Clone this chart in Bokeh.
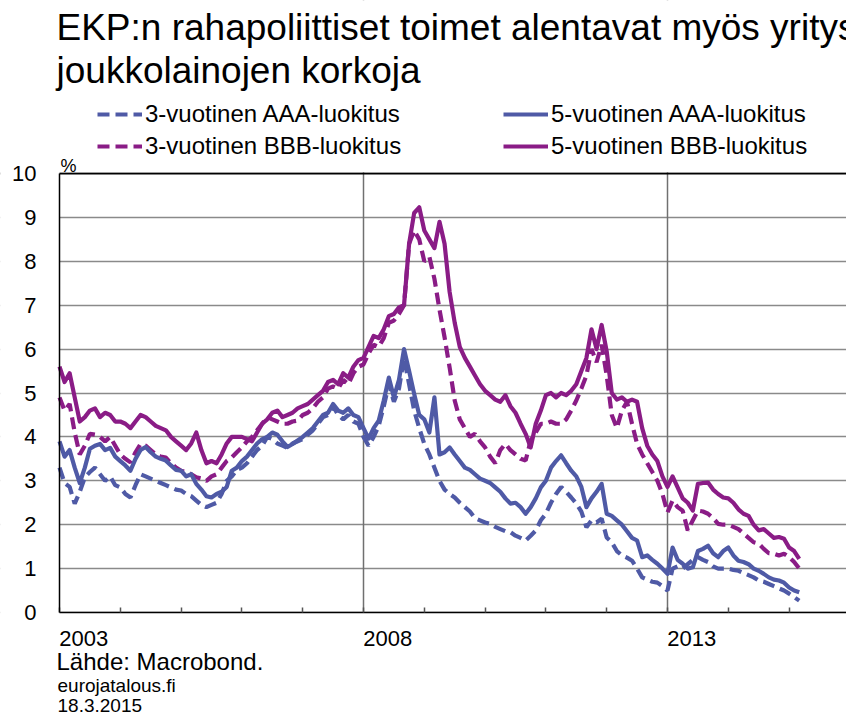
from bokeh.plotting import figure
from bokeh.models import (Range1d, FixedTicker, LinearAxis, Legend, LegendItem,
                          Label, PrintfTickFormatter, Grid, BoxAnnotation)
from bokeh.embed import file_html
from bokeh.resources import INLINE

# ---------------- data (monthly, Jan 2003 .. Mar 2015), percent ----------------
start_year = 2003
aaa3 = [
    3.3, 2.95, 2.86, 2.48, 2.75, 3.08, 3.2, 3.3, 3.15, 3.0, 3.1, 2.9,        # 2003
    2.85, 2.7, 2.62, 2.9, 3.15, 3.1, 3.05, 3.0, 2.95, 2.9, 2.85, 2.8,       # 2004
    2.78, 2.7, 2.65, 2.55, 2.45, 2.4, 2.45, 2.5, 2.7, 3.0, 3.1, 3.25,       # 2005
    3.3, 3.4, 3.55, 3.7, 3.8, 4.0, 3.95, 3.85, 3.8, 3.75, 3.85, 3.9,        # 2006
    3.95, 4.05, 4.15, 4.3, 4.45, 4.5, 4.7, 4.5, 4.4, 4.5, 4.35, 4.3,        # 2007
    4.0, 3.8, 4.0, 4.25, 4.7, 5.2, 4.8, 5.1, 5.8, 5.2, 4.6, 4.2,            # 2008
    3.84, 3.6, 3.3, 3.0, 2.8, 2.7, 2.62, 2.5, 2.4, 2.3, 2.15, 2.1,          # 2009
    2.05, 2.02, 1.95, 1.9, 1.85, 1.83, 1.75, 1.7, 1.64, 1.75, 1.87, 2.1,    # 2010
    2.25, 2.5, 2.7, 2.86, 2.75, 2.62, 2.48, 2.3, 1.94, 2.1, 2.05, 2.14,     # 2011
    1.71, 1.6, 1.4, 1.3, 1.25, 1.18, 1.0, 0.8, 0.75, 0.7, 0.68, 0.6,        # 2012
    0.5, 1.0, 1.05, 1.0, 1.1, 1.2, 1.26, 1.2, 1.15, 1.05, 1.0, 1.0,         # 2013
    1.0, 0.97, 0.95, 0.9, 0.85, 0.8, 0.73, 0.7, 0.65, 0.6, 0.55, 0.5,       # 2014
    0.43, 0.35, 0.27,                                                       # 2015
]
aaa5 = [
    3.9, 3.55, 3.7, 3.3, 2.95, 3.3, 3.73, 3.8, 3.84, 3.7, 3.75, 3.55,
    3.45, 3.35, 3.23, 3.5, 3.7, 3.77, 3.65, 3.55, 3.5, 3.46, 3.35, 3.25,
    3.23, 3.1, 3.15, 2.93, 2.8, 2.65, 2.62, 2.7, 2.75, 2.86, 3.23, 3.3,
    3.45, 3.55, 3.7, 3.85, 3.95, 4.0, 4.1, 4.05, 3.9, 3.77, 3.84, 3.92,
    4.0, 4.1, 4.2, 4.35, 4.5, 4.55, 4.75, 4.6, 4.55, 4.65, 4.5, 4.45,
    4.2, 3.96, 4.2, 4.37, 4.83, 5.35, 4.9, 5.3, 6.0, 5.5, 4.98, 4.5,
    4.4, 4.1, 4.9, 3.6, 3.65, 3.76, 3.6, 3.45, 3.3, 3.25, 3.15, 3.05,
    3.0, 2.95, 2.85, 2.75, 2.6, 2.48, 2.5, 2.4, 2.25, 2.4, 2.6, 2.85,
    3.0, 3.3, 3.45, 3.58, 3.4, 3.23, 3.1, 2.86, 2.4, 2.6, 2.75, 2.93,
    2.25, 2.2, 2.1, 2.0, 1.85, 1.7, 1.64, 1.26, 1.3, 1.2, 1.11, 1.0,
    0.88, 1.48, 1.2, 1.11, 1.0, 1.03, 1.4, 1.45, 1.52, 1.35, 1.26, 1.4,
    1.48, 1.3, 1.18, 1.15, 1.1, 1.0, 0.95, 0.88, 0.8, 0.75, 0.73, 0.68,
    0.57, 0.5, 0.46,
]
bbb3 = [
    4.9, 4.6, 4.75, 4.1, 3.6, 3.8, 4.07, 4.05, 4.0, 3.9, 4.0, 3.8,
    3.6, 3.5, 3.42, 3.65, 3.84, 3.8, 3.7, 3.6, 3.55, 3.53, 3.4, 3.3,
    3.23, 3.2, 3.15, 3.08, 3.05, 3.0, 3.1, 3.15, 3.3, 3.45, 3.53, 3.65,
    3.76, 3.9, 4.0, 4.15, 4.3, 4.45, 4.4, 4.35, 4.3, 4.3, 4.35, 4.37,
    4.5, 4.55, 4.65, 4.8, 4.9, 5.1, 5.15, 5.1, 5.3, 5.2, 5.45, 5.6,
    5.65, 5.9, 6.1, 6.05, 6.25, 6.6, 6.65, 6.8, 7.0, 8.4, 8.7, 8.5,
    8.0, 8.1, 7.6, 6.9, 6.27, 5.58, 4.83, 4.4, 4.2, 4.0, 4.07, 3.9,
    3.76, 3.55, 3.4, 3.7, 3.84, 3.7, 3.6, 3.5, 3.46, 3.92, 4.1, 4.3,
    4.3, 4.35, 4.3, 4.3, 4.4, 4.6, 4.83, 5.1, 5.4, 6.0, 5.7, 6.1,
    5.4, 4.5, 4.2, 4.6, 4.8, 4.3, 3.84, 3.6, 3.4, 3.2, 3.0, 2.7,
    2.28, 2.55, 2.4, 2.32, 1.87, 2.1, 2.32, 2.3, 2.25, 2.15, 2.02, 2.0,
    2.0, 1.95, 1.9, 1.8, 1.7, 1.6, 1.57, 1.45, 1.35, 1.34, 1.3, 1.34,
    1.26, 1.15, 1.0,
]
bbb5 = [
    5.6, 5.25, 5.45, 4.9, 4.35, 4.45, 4.6, 4.65, 4.45, 4.55, 4.5, 4.35,
    4.35, 4.3, 4.2, 4.35, 4.5, 4.45, 4.35, 4.25, 4.2, 4.15, 4.0, 3.9,
    3.8, 3.7, 3.85, 4.1, 3.7, 3.4, 3.45, 3.4, 3.6, 3.85, 4.0, 4.0,
    4.0, 3.95, 3.9, 4.1, 4.3, 4.4, 4.55, 4.6, 4.45, 4.5, 4.55, 4.65,
    4.7, 4.75, 4.85, 4.95, 5.05, 5.25, 5.3, 5.2, 5.45, 5.35, 5.6, 5.75,
    5.8, 6.05, 6.3, 6.25, 6.45, 6.75, 6.8, 6.95, 7.0, 8.4, 9.1, 9.23,
    8.7, 8.5, 8.3, 8.9, 8.4, 7.3, 6.6, 6.05, 5.8, 5.6, 5.4, 5.2,
    5.05, 4.95, 4.85, 4.8, 4.95, 4.7, 4.55, 4.3, 4.07, 3.76, 4.3, 4.6,
    4.95, 5.0, 4.9, 5.0, 4.95, 5.05, 5.2, 5.5, 5.8, 6.45, 6.0, 6.55,
    5.95, 5.0, 4.85, 4.9, 4.8, 4.85, 4.8, 4.2, 3.8, 3.6, 3.45, 3.1,
    2.86, 3.1, 2.85, 2.6, 2.5, 2.32, 2.93, 2.95, 2.96, 2.8, 2.7, 2.62,
    2.6, 2.5, 2.35, 2.25, 2.2, 2.0, 1.87, 1.9, 1.8, 1.7, 1.72, 1.68,
    1.48, 1.4, 1.22,
]
series_labels = ["3-vuotinen AAA-luokitus", "5-vuotinen AAA-luokitus",
                 "3-vuotinen BBB-luokitus", "5-vuotinen BBB-luokitus"]
y_ticks = list(range(0, 11))
tick_years = list(range(2003, 2016))
label_years = [2003, 2008, 2013]
grid_years = [2008, 2013]

title_lines = ["EKP:n rahapoliittiset toimet alentavat myös yritysten",
               "joukkolainojen korkoja"]
unit_text = "%"
source_text = "Lähde: Macrobond."
site_text = "eurojatalous.fi"
date_text = "18.3.2015"

# ---------------- geometry (pixels of the 846x724 page) ----------------
W, H = 846, 724
AX_X, AX_Y0, AX_Y10 = 59, 612, 173          # plot area: left edge, y of 0 and of 10
PX_YEAR = 60.8
PX_UNIT = (AX_Y0 - AX_Y10) / 10.0
X0 = 2003.0
Y_TOP = 10


def dx(px):
    return X0 + (px - AX_X) / PX_YEAR


def dy(py):
    return (AX_Y0 - py) / PX_UNIT


BLUE = "#4f5aa6"
PURPLE = "#8a1c86"
FONT = "Liberation Sans"

# frame covers the whole page so that nothing is clipped
p = figure(width=W, height=H, output_backend="svg", toolbar_location=None,
           x_range=Range1d(dx(0), dx(W)), y_range=Range1d(dy(H), dy(0)),
           x_axis_type=None, y_axis_type=None,
           min_border=0, min_border_left=0, min_border_right=0,
           min_border_top=0, min_border_bottom=0)
p.outline_line_color = None
p.background_fill_color = "white"
p.border_fill_color = "white"

# grids
p.add_layout(Grid(dimension=1, ticker=FixedTicker(ticks=y_ticks[:-1]),
                  grid_line_color="#8a8a8a", grid_line_width=1.5))
p.add_layout(Grid(dimension=0, ticker=FixedTicker(ticks=grid_years),
                  grid_line_color="#707070", grid_line_width=1.5))
p.add_layout(Grid(dimension=1, ticker=FixedTicker(ticks=[Y_TOP]),
                  grid_line_color="black", grid_line_width=2))
# white masks outside of the plot area (hide grid extensions)
for kw in (dict(left=dx(-5), right=X0), dict(top=0), dict(bottom=dy(AX_Y10 - 1.2))):
    p.add_layout(BoxAnnotation(fill_color="white", fill_alpha=1.0, line_color=None,
                               level="underlay", **kw))

# axes
yax = LinearAxis(ticker=FixedTicker(ticks=y_ticks), fixed_location=X0, bounds=(0, Y_TOP),
                 major_tick_line_color=None, minor_tick_line_color=None,
                 major_tick_in=0, major_tick_out=0,
                 axis_line_color="black", axis_line_width=1.5,
                 major_label_standoff=23,
                 major_label_text_font_size="22px",
                 major_label_text_font=FONT,
                 major_label_text_color="black")
p.add_layout(yax, "left")

xax = LinearAxis(ticker=FixedTicker(ticks=[y + 0.4 for y in label_years],
                                    minor_ticks=tick_years),
                 formatter=PrintfTickFormatter(format="%d"),
                 fixed_location=0, bounds=(X0, dx(W)),
                 major_tick_line_color=None, major_tick_in=0, major_tick_out=0,
                 minor_tick_in=5, minor_tick_out=0,
                 minor_tick_line_color="#555555", minor_tick_line_width=1.5,
                 axis_line_color="black", axis_line_width=1.5,
                 major_label_standoff=18,
                 major_label_text_font_size="22px",
                 major_label_text_font=FONT,
                 major_label_text_color="black")
p.add_layout(xax, "below")

# lines
t = [start_year + i / 12.0 for i in range(len(bbb5))]
r_bbb5 = p.line(t, bbb5, line_color=PURPLE, line_width=4.2, line_join="round")
r_bbb3 = p.line(t, bbb3, line_color=PURPLE, line_width=4.2, line_dash="12 6")
r_aaa5 = p.line(t, aaa5, line_color=BLUE, line_width=4.2, line_join="round")
r_aaa3 = p.line(t, aaa3, line_color=BLUE, line_width=4.2, line_dash="12 6")

# legends (two columns), positioned from the bottom-left of the page
common = dict(padding=0, margin=0, spacing=4, glyph_width=45, glyph_height=28,
              label_height=28, label_standoff=3,
              label_text_font_size="24px", label_text_font=FONT,
              label_text_color="black",
              background_fill_alpha=0, border_line_color=None)
leg1 = Legend(items=[LegendItem(label=series_labels[0], renderers=[r_aaa3]),
                     LegendItem(label=series_labels[2], renderers=[r_bbb3])],
              location=(97, H - 160), **common)
leg2 = Legend(items=[LegendItem(label=series_labels[1], renderers=[r_aaa5]),
                     LegendItem(label=series_labels[3], renderers=[r_bbb5])],
              location=(503, H - 160), **common)
p.add_layout(leg1)
p.add_layout(leg2)


# texts (y given as the visual middle of the text line)
def add_text(px, py_mid, text, size):
    p.add_layout(Label(x=dx(px), y=dy(py_mid), text=text, text_font=FONT,
                       text_font_size=size, text_color="black",
                       text_baseline="middle"))


add_text(56, 27, title_lines[0], "37px")
add_text(56, 70, title_lines[1], "37px")
add_text(60, 165, unit_text, "18px")
add_text(56, 661, source_text, "24px")
add_text(57, 685, site_text, "19px")
add_text(57, 705, date_text, "19px")

open("out.html", "w").write(file_html(p, INLINE))
